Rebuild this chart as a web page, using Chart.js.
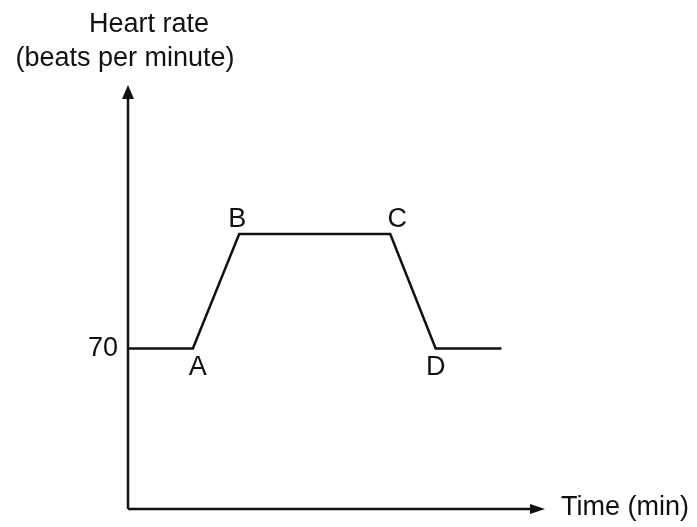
<!DOCTYPE html>
<html>
<head>
<meta charset="utf-8">
<title>Heart rate</title>
<script src="https://cdn.jsdelivr.net/npm/chart.js@4/dist/chart.umd.min.js"></script>
<style>
  html, body { margin: 0; padding: 0; background: #fff; }
  #wrap { width: 697px; height: 527px; }
</style>
</head>
<body>
<div id="wrap"><canvas id="hr" width="697" height="527"></canvas></div>
<script>
// sketch values
const times = [0, 7, 12, 28.3, 33.2, 40.3];
const heartRate = [70, 70, 120, 120, 70, 70];
const pointNames = ['', 'A', 'B', 'C', 'D', ''];
const yTicks = [70];
const yTitle = ['Heart rate', '(beats per minute)'];
const xTitle = 'Time (min)';

const ink = '#111';
const font = '27px "Liberation Sans", Arial, sans-serif';

/* -------------------- AXES + LABELS -------------------- */

const sketch = {
    id: 'sketch',
    afterDraw(chart) {
        const { ctx, chartArea: a, scales: { x, y } } = chart;
        const x0 = a.left, y0 = a.bottom;

        ctx.save();
        ctx.strokeStyle = ink;
        ctx.fillStyle = ink;
        ctx.lineWidth = 2.5;

        // axis lines
        ctx.beginPath();
        ctx.moveTo(x0, y0);
        ctx.lineTo(x0, a.top + 10);
        ctx.moveTo(x0, y0);
        ctx.lineTo(a.right - 10, y0);
        ctx.stroke();

        // arrow heads
        ctx.beginPath();
        ctx.moveTo(x0, a.top);
        ctx.lineTo(x0 - 6, a.top + 14);
        ctx.lineTo(x0 + 6, a.top + 14);
        ctx.closePath();
        ctx.fill();

        ctx.beginPath();
        ctx.moveTo(a.right, y0);
        ctx.lineTo(a.right - 15, y0 - 5);
        ctx.lineTo(a.right - 15, y0 + 5);
        ctx.closePath();
        ctx.fill();

        ctx.font = font;

        // tick label(s)
        ctx.textAlign = 'right';
        ctx.textBaseline = 'middle';
        yTicks.forEach(v => ctx.fillText(String(v), x0 - 10, y.getPixelForValue(v)));

        // axis titles
        ctx.textAlign = 'center';
        ctx.textBaseline = 'alphabetic';
        ctx.fillText(yTitle[0], x0 + 21, 32);
        ctx.fillText(yTitle[1], x0 - 3, 66);

        ctx.textAlign = 'left';
        ctx.textBaseline = 'middle';
        ctx.fillText(xTitle, a.right + 16, y0 - 1);

        // point letters: below the low corners, above the high ones
        ctx.textAlign = 'center';
        ctx.textBaseline = 'middle';
        const low = Math.min(...heartRate);
        pointNames.forEach((name, i) => {
            if (!name) return;
            const px = x.getPixelForValue(times[i]);
            const py = y.getPixelForValue(heartRate[i]);
            if (heartRate[i] <= low) {
                ctx.fillText(name, px + (i === 1 ? 5 : 0), py + 19);
            } else {
                ctx.fillText(name, px + (i === 2 ? -2 : 7), py - 14);
            }
        });

        ctx.restore();
    }
};

/* -------------------- CHART -------------------- */

new Chart(document.getElementById('hr'), {
    type: 'line',
    data: {
        datasets: [{
            data: times.map((t, i) => ({ x: t, y: heartRate[i] })),
            borderColor: ink,
            borderWidth: 2.5,
            borderJoinStyle: 'miter',
            tension: 0,
            pointRadius: 0,
            fill: false
        }]
    },
    options: {
        responsive: false,
        animation: false,
        devicePixelRatio: 1,
        layout: { padding: { left: 128, right: 152, top: 85, bottom: 18 } },
        plugins: {
            legend: { display: false },
            tooltip: { enabled: false }
        },
        scales: {
            x: { type: 'linear', min: 0, max: 45, display: false },
            y: { min: 0, max: 185, display: false }
        }
    },
    plugins: [sketch]
});
</script>
</body>
</html>
